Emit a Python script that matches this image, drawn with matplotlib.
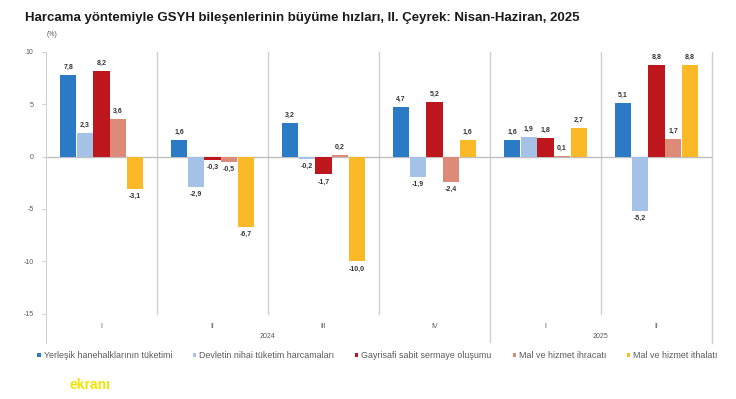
import numpy as np
from matplotlib import pyplot as plt

plt.rcParams['font.family'] = ['Liberation Sans', 'DejaVu Sans']

ceyrekler = ["I", "II", "III", "IV", "I", "II"]
yillar = ["2024", "2025"]
seriler = ["Yerleşik hanehalklarının tüketimi", "Devletin nihai tüketim harcamaları",
           "Gayrisafi sabit sermaye oluşumu", "Mal ve hizmet ihracatı", "Mal ve hizmet ithalatı"]
hanehalki = [7.8, 1.6, 3.2, 4.7, 1.6, 5.1]
devlet = [2.3, -2.9, -0.2, -1.9, 1.9, -5.2]
yatirim = [8.2, -0.3, -1.7, 5.2, 1.8, 8.8]
ihracat = [3.6, -0.5, 0.2, -2.4, 0.1, 1.7]
ithalat = [-3.1, -6.7, -10.0, 1.6, 2.7, 8.8]

renkler = ["#2a7ac6", "#a4c2e6", "#be161d", "#dd8a78", "#fbb827"]
gri = "#595959"

fig = plt.figure(figsize=(7.36, 3.99), dpi=100)
ax = fig.add_axes([0.0625, 0.1404, 0.9048, 0.7293])

x = np.arange(len(ceyrekler))
w = 0.15
for k, (ad, vals) in enumerate(zip(seriler, [hanehalki, devlet, yatirim, ihracat, ithalat])):
    pos = x + (k - 2) * w
    ax.bar(pos, vals, w * 0.97, color=renkler[k], label=ad, zorder=3)
    for p, v in zip(pos, vals):
        txt = "{:.1f}".format(v).replace(".", ",")
        if v >= 0:
            ax.text(p, v + 0.4, txt, ha="center", va="bottom", fontsize=5, fontweight="bold", color="#333333")
        else:
            ax.text(p, v - 0.4, txt, ha="center", va="top", fontsize=5, fontweight="bold", color="#333333")

ax.set_xlim(-0.5, 5.5)
ax.set_ylim(-17.8, 10)
ax.axhline(0, color="#bfbfbf", lw=1, zorder=2)

# ayirici cizgiler
for s in [0.5, 1.5, 2.5, 4.5]:
    ax.plot([s, s], [-15, 10], color="#d0d0d0", lw=1, zorder=1)
ax.plot([3.5, 3.5], [-17.8, 10], color="#d0d0d0", lw=1, zorder=1)
ax.plot([5.5, 5.5], [-17.8, 10], color="#d0d0d0", lw=1, zorder=1, clip_on=False)

for i, q in enumerate(ceyrekler):
    ax.text(i, -16.2, q, ha="center", va="center", fontsize=5, color=gri)
ax.text(1.5, -17.2, yillar[0], ha="center", va="center", fontsize=5, color=gri)
ax.text(4.5, -17.2, yillar[1], ha="center", va="center", fontsize=5, color=gri)

ax.set_xticks([])
ax.set_yticks([10, 5, 0, -5, -10, -15])
ax.set_yticklabels(["10", "5", "0", "-5", "-10", "-15"])
ax.tick_params(axis="y", labelsize=5, colors=gri, length=3, width=0.8, pad=6)
ax.tick_params(axis="y", color="#d0d0d0")
for sp in ["top", "right", "bottom"]:
    ax.spines[sp].set_visible(False)
ax.spines["left"].set_color("#d0d0d0")

fig.text(25 / 736, 1 - 18 / 399, "Harcama yöntemiyle GSYH bileşenlerinin büyüme hızları, II. Çeyrek: Nisan-Haziran, 2025",
         fontsize=9.5, fontweight="bold", va="center", ha="left", color="#1a1a1a")
fig.text(47 / 736, 1 - 34 / 399, "(%)", fontsize=5, color=gri, va="center", ha="left")

leg = fig.legend(loc="center", bbox_to_anchor=(0.513, 1 - 356 / 399), ncol=5, frameon=False,
                 fontsize=6.4, handlelength=0.35, handleheight=0.35, handletextpad=0.35, columnspacing=2.35)
for t in leg.get_texts():
    t.set_color(gri)

fig.text(70 / 736, 1 - 385 / 399, "ekranı", fontsize=10, fontweight="bold", color="#f2e400", va="center")

fig.savefig("out.png", dpi=100)
